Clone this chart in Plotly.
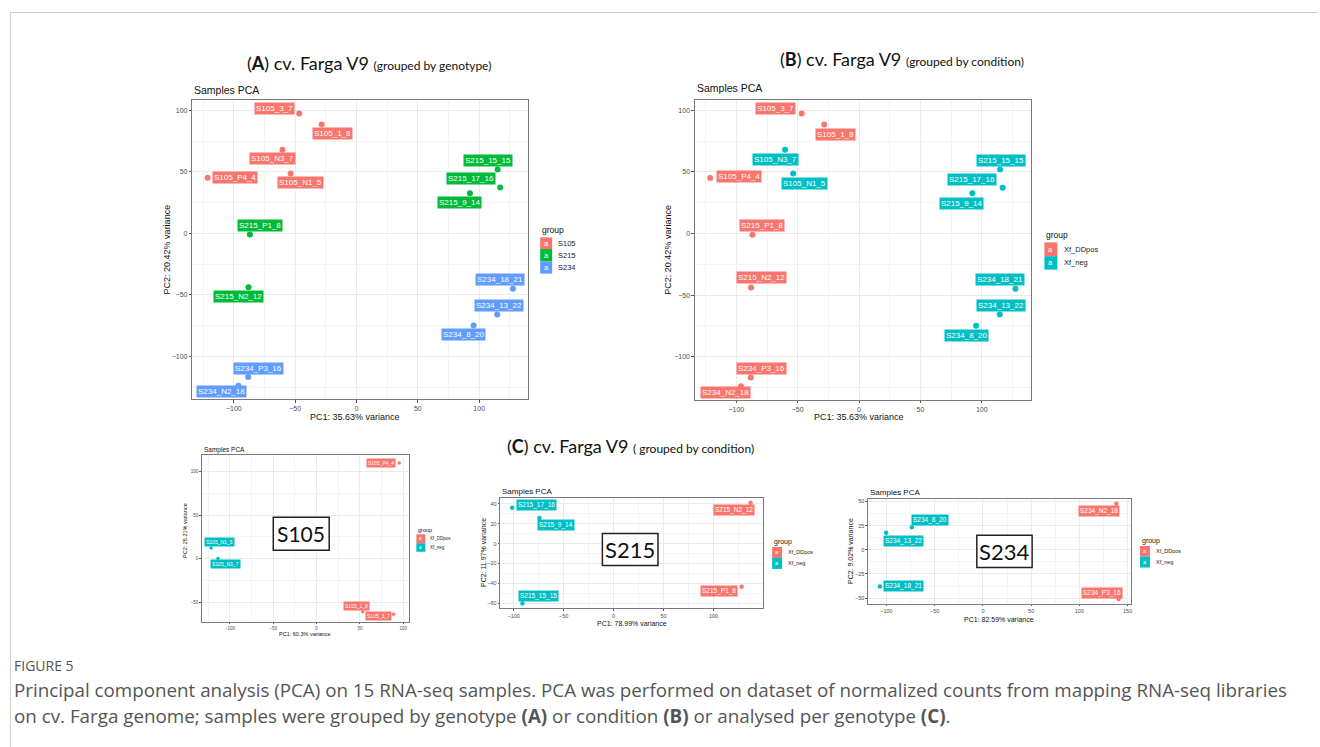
import plotly.graph_objects as go

W, H = 1320, 747

# ---------------- DATA ----------------
samples = ["S105_3_7", "S105_1_8", "S105_N3_7", "S105_N1_5", "S105_P4_4",
           "S215_P1_8", "S215_N2_12", "S234_P3_16", "S234_N2_18",
           "S215_15_15", "S215_17_16", "S215_9_14",
           "S234_18_21", "S234_13_22", "S234_8_20"]
pc1_all = [-46.7, -28.4, -60.3, -53.7, -121.3, -86.9, -88.0, -88.3, -96.2,
           115.0, 117.1, 92.4, 127.5, 114.7, 95.4]
pc2_all = [97.5, 88.6, 68.0, 48.7, 45.2, -0.9, -43.8, -116.8, -123.9,
           52.0, 37.3, 32.7, -44.9, -65.8, -74.8]
genotype = ["S105", "S105", "S105", "S105", "S105", "S215", "S215", "S234", "S234",
            "S215", "S215", "S215", "S234", "S234", "S234"]
condition = ["Xf_DDpos", "Xf_DDpos", "Xf_neg", "Xf_neg", "Xf_DDpos", "Xf_DDpos",
             "Xf_DDpos", "Xf_DDpos", "Xf_DDpos", "Xf_neg", "Xf_neg", "Xf_neg",
             "Xf_neg", "Xf_neg", "Xf_neg"]

s105_names = ["S105_P4_4", "S105_N1_5", "S105_N3_7", "S105_1_8", "S105_3_7"]
s105_pc1 = [95.4, -121.8, -113.8, 53.3, 88.9]
s105_pc2 = [110.0, 12.3, 0.4, -60.8, -63.8]
s105_cond = ["Xf_DDpos", "Xf_neg", "Xf_neg", "Xf_DDpos", "Xf_DDpos"]

s215_names = ["S215_17_16", "S215_9_14", "S215_15_15", "S215_N2_12", "S215_P1_8"]
s215_pc1 = [-101.5, -74.2, -91.2, 137.1, 128.1]
s215_pc2 = [36.0, 25.7, -60.0, 41.0, -43.3]
s215_cond = ["Xf_neg", "Xf_neg", "Xf_neg", "Xf_DDpos", "Xf_DDpos"]

s234_names = ["S234_N2_18", "S234_P3_16", "S234_8_20", "S234_13_22", "S234_18_21"]
s234_pc1 = [138.3, 140.7, -73.7, -100.3, -106.8]
s234_pc2 = [47.6, -51.0, 23.4, 17.6, -37.9]
s234_cond = ["Xf_DDpos", "Xf_DDpos", "Xf_neg", "Xf_neg", "Xf_neg"]

genotype_levels = ["S105", "S215", "S234"]
condition_levels = ["Xf_DDpos", "Xf_neg"]

# ---------------- STYLE ----------------
COLORS = {"S105": "#F8766D", "S215": "#00BA38", "S234": "#619CFF",
          "Xf_DDpos": "#F8766D", "Xf_neg": "#00BFC4"}
FONT = "Liberation Sans, Arial, sans-serif"
HFONT = "Lato, Carlito, sans-serif"
CFONT = "Open Sans, sans-serif"

# label offsets (px, right / down) for the repel-like labels
offA = [(-25, -5), (11, 9), (-10, 9), (10, 9), (27, 0), (10, -9), (-10, 9), (10, -9),
        (-17, 6), (-10, -9), (-29, -9), (-10, 9), (-13, -9), (2, -9), (-10, 9)]
offB = [(-26, -5), (11, 10), (-10, 10), (11, 10), (29, -1), (10, -9), (10, -10), (11, -9),
        (-16, 6), (1, -9), (-31, -8), (-11, 10), (-15, -9), (1, -9), (-10, 10)]
off105 = [(-18, 0), (8, -6), (7, 6), (-6, -6), (-15, 2)]
off215 = [(24, -3), (17, 7), (16, -7), (-17, 7), (-23, 4)]
off234 = [(-17, 7), (-17, -6), (18, -7), (17, 8), (24, 0)]


def px(x):
    return x / W


def py(y):
    return 1 - y / H


fig = go.Figure()
annotations = []
shapes = []


def expand(vals):
    lo, hi = min(vals), max(vals)
    d = (hi - lo) * 0.05
    return [lo - d, hi + d]


def add_panel(idx, dom_x, dom_y, xs, ys, names, groups, offs, dtx, dty,
              msize, lfont, tickfont, ticklen, title_font, title_xy):
    sfx = "" if idx == 1 else str(idx)
    common = dict(showgrid=True, gridcolor="#EBEBEB", gridwidth=1,
                  zeroline=False, showline=True, mirror=True, linecolor="#7a7a7a", linewidth=1,
                  ticks="outside", ticklen=ticklen, tickcolor="#555", tickwidth=0.8,
                  tickfont=dict(family=FONT, size=tickfont, color="#4D4D4D"), fixedrange=True)
    xa = dict(domain=[px(dom_x[0]), px(dom_x[1])], range=expand(xs),
              anchor="y" + sfx, dtick=dtx, tick0=0,
              minor=dict(dtick=dtx / 2, tick0=0, showgrid=True, gridcolor="#F4F4F4", gridwidth=0.6,
                         ticks=""), **common)
    ya = dict(domain=[py(dom_y[1]), py(dom_y[0])], range=expand(ys),
              anchor="x" + sfx, dtick=dty, tick0=0,
              minor=dict(dtick=dty / 2, tick0=0, showgrid=True, gridcolor="#F4F4F4", gridwidth=0.6,
                         ticks=""), **common)
    fig.update_layout(**{"xaxis" + sfx: xa, "yaxis" + sfx: ya})
    for g in dict.fromkeys(groups):
        gx = [x for x, gg in zip(xs, groups) if gg == g]
        gy = [y for y, gg in zip(ys, groups) if gg == g]
        fig.add_trace(go.Scatter(x=gx, y=gy, mode="markers", xaxis="x" + sfx, yaxis="y" + sfx,
                                 marker=dict(color=COLORS[g], size=msize), showlegend=False,
                                 hoverinfo="skip"))
    for x, y, n, g, (dx, dy) in zip(xs, ys, names, groups, offs):
        annotations.append(dict(x=x, y=y, xref="x" + sfx, yref="y" + sfx, text=n,
                                showarrow=False, xshift=dx, yshift=-dy,
                                bgcolor=COLORS[g], borderpad=1,
                                font=dict(family=FONT, size=lfont, color="white")))
    annotations.append(dict(x=px(dom_x[0]), y=py(title_xy), xref="paper", yref="paper",
                            text="Samples PCA", showarrow=False, xanchor="left", yanchor="middle",
                            font=dict(family=FONT, size=title_font, color="#111")))


def add_text(x, y, text, size, color="#222", angle=0, family=FONT, xanchor="center"):
    annotations.append(dict(x=px(x), y=py(y), xref="paper", yref="paper", text=text,
                            showarrow=False, textangle=angle, xanchor=xanchor, yanchor="middle",
                            font=dict(family=family, size=size, color=color)))


def add_legend(x0, y_title, rows, levels, kw, fsize, tsize, text_x):
    add_text(x0, y_title, "group", tsize, color="#111", xanchor="left")
    for (ytop, ybot), lev in zip(rows, levels):
        shapes.append(dict(type="rect", xref="paper", yref="paper", x0=px(x0), x1=px(x0 + kw),
                           y0=py(ybot), y1=py(ytop), fillcolor=COLORS[lev],
                           line=dict(width=0), layer="above"))
        add_text(x0 + kw / 2, (ytop + ybot) / 2, "a", fsize, color="white")
        add_text(text_x, (ytop + ybot) / 2, lev, fsize, color="#222", xanchor="left")


def add_box(x0, x1, y0, y1, text, size):
    shapes.append(dict(type="rect", xref="paper", yref="paper", x0=px(x0), x1=px(x1),
                       y0=py(y1), y1=py(y0), fillcolor="white",
                       line=dict(color="#222", width=1.5), layer="above"))
    annotations.append(dict(x=px((x0 + x1) / 2), y=py((y0 + y1) / 2), xref="paper", yref="paper",
                            text=text, showarrow=False, xanchor="center", yanchor="middle",
                            font=dict(family=HFONT, size=size, color="#111")))


# Panel A (genotype)
add_panel(1, (192.7, 529), (99, 399), pc1_all, pc2_all, samples, genotype, offA, 50, 50,
          6, 8, 7, 2.5, 10.5, 89)
add_text(356, 417, "PC1: 35.63% variance", 9, color="#111")
add_text(167, 249, "PC2: 20.42% variance", 9, color="#111", angle=-90)
add_legend(541, 229, [(236.7, 248.3), (248.3, 260.7), (260.7, 273)], genotype_levels,
           12, 7.5, 8.5, 557)

# Panel B (condition)
add_panel(2, (696, 1032.3), (99, 399.3), pc1_all, pc2_all, samples, condition, offB, 50, 50,
          6, 8, 7, 2.5, 10.5, 87.5)
add_text(860, 417, "PC1: 35.63% variance", 9, color="#111")
add_text(669, 249, "PC2: 20.42% variance", 9, color="#111", angle=-90)
add_legend(1046, 234, [(241.7, 255.5), (255.5, 269)], condition_levels,
           13, 7.5, 8.5, 1064)

# Panel C1 (S105)
add_panel(3, (202, 409.3), (455, 621.7), s105_pc1, s105_pc2, s105_names, s105_cond, off105, 50, 50,
          3.5, 5, 4.5, 1.5, 6.5, 450)
add_text(305, 634, "PC1: 60.3% variance", 5.5, color="#111")
add_text(186, 530, "PC2: 25.21% variance", 5.5, color="#111", angle=-90)
add_legend(417, 529.5, [(534, 543), (543, 551.5)], condition_levels, 9, 4.5, 5.5, 428.5)
add_box(273.7, 329.7, 517, 550, "S105", 21)

# Panel C2 (S215)
add_panel(4, (501, 763.7), (497.3, 608.3), s215_pc1, s215_pc2, s215_names, s215_cond, off215, 50, 20,
          4.5, 6.5, 5.5, 1.5, 8, 491)
add_text(632.7, 623, "PC1: 78.99% variance", 7, color="#111")
add_text(484, 552.5, "PC2: 11.97% variance", 7, color="#111", angle=-90)
add_legend(773.3, 541.5, [(546.7, 557.7), (557.7, 568.7)], condition_levels, 10, 5.5, 7, 787)
add_box(603.3, 659, 533.3, 565.3, "S215", 22)

# Panel C3 (S234)
add_panel(5, (869.3, 1132.3), (498.7, 603.7), s234_pc1, s234_pc2, s234_names, s234_cond, off234, 50, 25,
          4.5, 6.5, 5.5, 1.5, 8, 492)
add_text(1000.3, 619, "PC1: 82.59% variance", 7, color="#111")
add_text(852, 551, "PC2: 9.02% variance", 7, color="#111", angle=-90)
add_legend(1141.7, 540.5, [(545.7, 556.3), (556.3, 567.3)], condition_levels, 10, 5.5, 7, 1156)
add_box(978.3, 1033.7, 535, 567.3, "S234", 22)

# Headers
add_text(370, 62, "(<b>A</b>) cv. Farga V9 <span style='font-size:12px'>(grouped by genotype)</span>",
         18, color="#111", family=HFONT)
add_text(903, 58, "(<b>B</b>) cv. Farga V9 <span style='font-size:12px'>(grouped by condition)</span>",
         18, color="#111", family=HFONT)
add_text(631, 446, "(<b>C</b>) cv. Farga V9 <span style='font-size:12px'>( grouped by condition)</span>",
         18, color="#111", family=HFONT)

# Caption
add_text(12, 665, "FIGURE 5", 14, color="#555", family=CFONT, xanchor="left")
add_text(12, 690, "Principal component analysis (PCA) on 15 RNA-seq samples. PCA was performed on dataset "
         "of normalized counts from mapping RNA-seq libraries", 18.8, color="#555",
         family=CFONT, xanchor="left")
add_text(12, 716, "on cv. Farga genome; samples were grouped by genotype <b>(A)</b> or condition "
         "<b>(B)</b> or analysed per genotype <b>(C)</b>.", 18.8, color="#555",
         family=CFONT, xanchor="left")

# page frame
shapes.append(dict(type="line", xref="paper", yref="paper", x0=px(10), x1=px(1320), y0=py(11.5), y1=py(11.5),
                   line=dict(color="#d0d0d0", width=1)))
shapes.append(dict(type="line", xref="paper", yref="paper", x0=px(10.5), x1=px(10.5), y0=py(11.5), y1=py(747),
                   line=dict(color="#d0d0d0", width=1)))

fig.update_layout(width=W, height=H, margin=dict(l=0, r=0, t=0, b=0),
                  paper_bgcolor="white", plot_bgcolor="white",
                  annotations=annotations, shapes=shapes, showlegend=False)

fig.write_html("out.html", config={"displayModeBar": False})
